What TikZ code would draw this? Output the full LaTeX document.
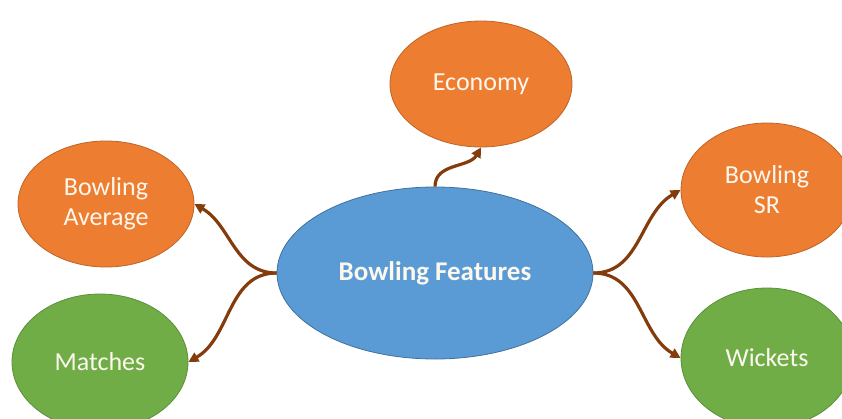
\documentclass[tikz,border=0pt]{standalone}
\usepackage{fontspec}
\setmainfont{Carlito}
\usepackage{tikz}
\usetikzlibrary{arrows.meta,positioning,shapes.geometric}

\definecolor{featblue}{RGB}{91,155,213}
\definecolor{featblueline}{RGB}{65,113,156}
\definecolor{statorange}{RGB}{237,125,49}
\definecolor{statorangeline}{RGB}{190,100,40}
\definecolor{statgreen}{RGB}{112,173,71}
\definecolor{statgreenline}{RGB}{90,145,55}
\definecolor{linkbrown}{RGB}{132,60,12}
\definecolor{labelwhite}{RGB}{252,248,238}

\begin{document}
\begin{tikzpicture}[x=1pt,y=-1pt,
  blob/.style={ellipse,draw,line width=0.8pt,inner sep=0pt,align=center,
    text=labelwhite,font=\fontsize{26}{30}\selectfont},
  orangeblob/.style={blob,fill=statorange,draw=statorangeline},
  greenblob/.style={blob,fill=statgreen,draw=statgreenline},
  link/.style={draw=linkbrown,line width=3.2pt,-{Triangle[length=10pt,width=10pt]}}]
  \useasboundingbox (0,0) rectangle (842,418);
  % centre and the five features round it
  \node[blob,fill=featblue,draw=featblueline,minimum width=316pt,minimum height=172pt,
    font=\bfseries\fontsize{27}{32}\selectfont] (feat) at (435,273) {Bowling Features};
  \node[orangeblob,minimum width=182pt,minimum height=126pt] (econ) at (481,84) {Economy};
  \node[orangeblob,minimum width=176pt,minimum height=126pt] (avg) at (106,204) {Bowling\\Average};
  \node[greenblob,minimum width=176pt,minimum height=136pt] (match) at (100,362) {Matches};
  \node[orangeblob,minimum width=172pt,minimum height=134pt] (sr) at (767,190) {Bowling\\SR};
  \node[greenblob,minimum width=172pt,minimum height=140pt] (wkt) at (767,358) {Wickets};
  % curved links
  \draw[link] (feat.north) to[out=90,in=-120] (econ.south);
  \draw[link] (feat.west) to[out=180,in=-30] (avg.east);
  \draw[link] (feat.west) to[out=180,in=30] (match.east);
  \draw[link] (feat.east) to[out=0,in=-150] (sr.west);
  \draw[link] (feat.east) to[out=0,in=150] (wkt.west);
\end{tikzpicture}
\end{document}
